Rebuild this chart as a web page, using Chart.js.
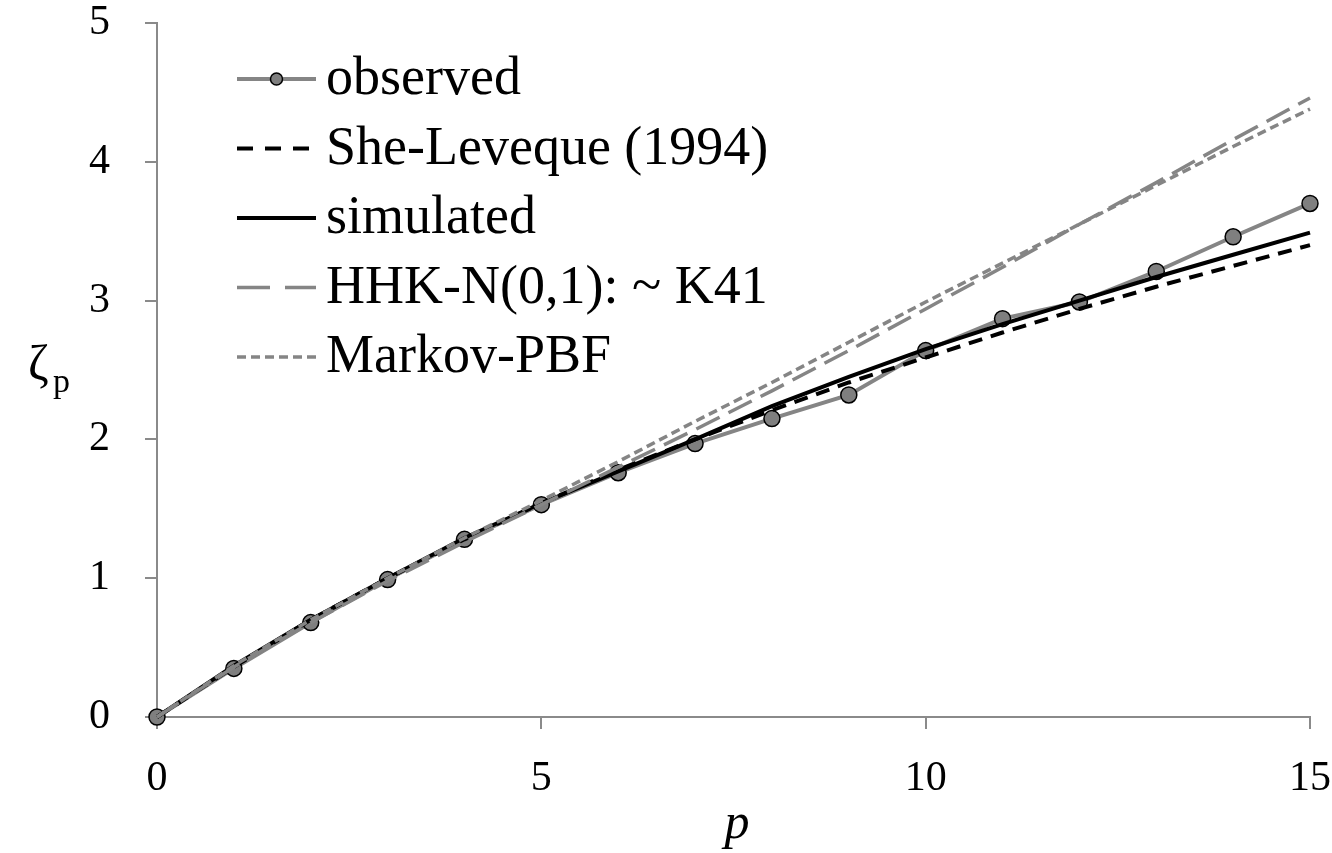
<!DOCTYPE html>
<html>
<head>
<meta charset="utf-8">
<script src="https://cdn.jsdelivr.net/npm/chart.js@4.4.1/dist/chart.umd.min.js"></script>
<style>
  body { margin: 0; background: #fff; }
  #wrap { width: 1332px; height: 853px; }
</style>
</head>
<body>
<div id="wrap"><canvas id="zeta" width="1332" height="853"></canvas></div>
<script>
// order p
const pValues = [0, 1, 2, 3, 4, 5, 6, 7, 8, 9, 10, 11, 12, 13, 14, 15];

// scaling exponents
const observed    = [0, 0.35, 0.68, 0.99, 1.28, 1.53, 1.76, 1.97, 2.15, 2.32, 2.64, 2.87, 2.99, 3.21, 3.46, 3.70];
const sheLeveque  = [0, 0.36, 0.70, 1.00, 1.28, 1.54, 1.78, 2.00, 2.21, 2.41, 2.59, 2.77, 2.94, 3.10, 3.25, 3.40];
const simulated   = [0, 0.37, 0.70, 1.00, 1.29, 1.54, 1.77, 2.00, 2.24, 2.45, 2.65, 2.83, 3.00, 3.17, 3.33, 3.49];
const hhk         = [0, 0.36, 0.68, 0.98, 1.26, 1.53, 1.80, 2.07, 2.35, 2.64, 2.94, 3.24, 3.55, 3.85, 4.16, 4.46];
const markov      = [0, 0.37, 0.70, 1.00, 1.29, 1.56, 1.84, 2.13, 2.41, 2.70, 2.99, 3.27, 3.55, 3.83, 4.11, 4.38];

const xTicks = [0, 5, 10, 15];
const yTicks = [0, 1, 2, 3, 4, 5];

const GREY = '#858585';
const AXIS = '#8a8a8a';
const SERIF = '"Liberation Serif", "DejaVu Serif", serif';

function pts(vals) {
  return pValues.map((p, i) => ({ x: p, y: vals[i] }));
}

const datasets = [
  {
    label: 'observed', data: pts(observed),
    borderColor: GREY, borderWidth: 4,
    pointRadius: 8, pointBackgroundColor: '#7f7f7f', pointBorderColor: '#000', pointBorderWidth: 1.5,
    order: 5, clip: false
  },
  {
    label: 'She-Leveque (1994)', data: pts(sheLeveque),
    borderColor: '#000', borderWidth: 4, borderDash: [14, 9],
    pointRadius: 0, order: 4, clip: false
  },
  {
    label: 'simulated', data: pts(simulated),
    borderColor: '#000', borderWidth: 4,
    pointRadius: 0, order: 3, clip: false
  },
  {
    label: 'HHK-N(0,1): ~ K41', data: pts(hhk),
    borderColor: GREY, borderWidth: 3.5, borderDash: [26, 10],
    pointRadius: 0, order: 2, clip: false
  },
  {
    label: 'Markov-PBF', data: pts(markov),
    borderColor: GREY, borderWidth: 3.5, borderDash: [9, 5],
    pointRadius: 0, order: 1, clip: false
  }
];

// legend + axis titles drawn by hand
const extras = {
  id: 'extras',
  afterDraw(chart) {
    const ctx = chart.ctx;
    ctx.save();
    const x0 = 237, x1 = 316, top = 79, step = 69.5;
    chart.data.datasets.forEach((ds, i) => {
      const y = top + i * step;
      ctx.strokeStyle = ds.borderColor;
      ctx.lineWidth = ds.borderWidth;
      ctx.setLineDash(ds.borderDash ? (i === 1 ? [16, 12] : i === 3 ? [33, 15] : ds.borderDash) : []);
      ctx.beginPath();
      ctx.moveTo(x0, y);
      ctx.lineTo(x1, y);
      ctx.stroke();
      ctx.setLineDash([]);
      if (ds.pointRadius > 0) {
        ctx.beginPath();
        ctx.arc((x0 + x1) / 2, y, 6, 0, Math.PI * 2);
        ctx.fillStyle = ds.pointBackgroundColor;
        ctx.fill();
        ctx.lineWidth = 1.5;
        ctx.strokeStyle = '#000';
        ctx.stroke();
      }
      ctx.fillStyle = '#000';
      ctx.font = '54px ' + SERIF;
      ctx.textBaseline = 'middle';
      ctx.textAlign = 'left';
      ctx.fillText(ds.label, 326, y + 1);
    });

    // y title: zeta_p
    ctx.fillStyle = '#000';
    ctx.textBaseline = 'alphabetic';
    ctx.textAlign = 'left';
    ctx.font = '50px ' + SERIF;
    ctx.fillText('ζ', 28, 380);
    ctx.font = '34px ' + SERIF;
    ctx.fillText('p', 53, 392);

    // x title
    ctx.font = 'italic 50px ' + SERIF;
    ctx.textAlign = 'center';
    ctx.fillText('p', 737, 838);
    ctx.restore();
  }
};

function noPad(s) {
  s.paddingTop = 0;
  s.paddingBottom = 0;
  s.paddingLeft = 0;
  s.paddingRight = 0;
}

new Chart(document.getElementById('zeta'), {
  type: 'line',
  data: { datasets: datasets },
  options: {
    responsive: false,
    animation: false,
    layout: { padding: { top: 23, right: 22, left: 0, bottom: 0 } },
    plugins: { legend: { display: false }, tooltip: { enabled: false } },
    scales: {
      x: {
        type: 'linear', min: 0, max: 15,
        afterBuildTicks: s => { s.ticks = xTicks.map(v => ({ value: v })); },
        afterFit: s => { s.height = 136; noPad(s); },
        grid: { display: true, drawOnChartArea: false, drawTicks: true, tickLength: 12, color: AXIS, lineWidth: 2 },
        border: { display: true, color: AXIS, width: 2 },
        ticks: { color: '#000', font: { family: SERIF, size: 42 }, padding: 25, maxRotation: 0 }
      },
      y: {
        type: 'linear', min: 0, max: 5,
        afterBuildTicks: s => { s.ticks = yTicks.map(v => ({ value: v })); },
        afterFit: s => { s.width = 157; noPad(s); },
        grid: { display: true, drawOnChartArea: false, drawTicks: true, tickLength: 12, color: AXIS, lineWidth: 2 },
        border: { display: true, color: AXIS, width: 2 },
        ticks: { color: '#000', font: { family: SERIF, size: 42 }, padding: 35 }
      }
    }
  },
  plugins: [extras]
});
</script>
</body>
</html>
